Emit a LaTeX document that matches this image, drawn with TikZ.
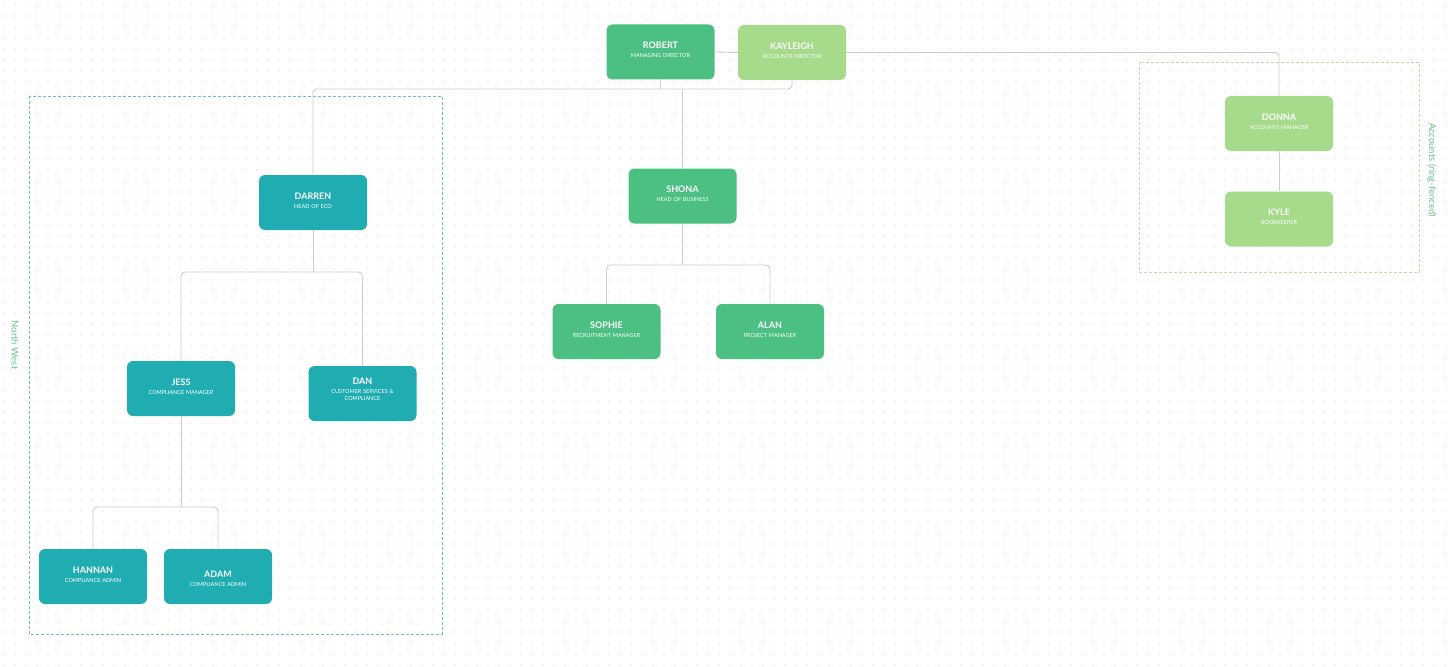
\documentclass[tikz,border=0pt]{standalone}
\usepackage{fontspec}
\setmainfont{Lato}
\usetikzlibrary{positioning}

\definecolor{staffgreen}{HTML}{4CBF83}
\definecolor{acctgreen}{HTML}{A6DB8B}
\definecolor{nwteal}{HTML}{20ADB2}
\definecolor{linkgray}{HTML}{C9CED3}
\definecolor{dotgray}{HTML}{E3E6E8}
\definecolor{nwblue}{HTML}{6BBAD8}
\definecolor{fencegreen}{HTML}{B8E2A4}
\definecolor{grouptext}{HTML}{6CC28C}

\newcommand{\person}[2]{{\fontsize{9}{9}\bfseries #1}\\[2pt]#2}

\begin{document}
\begin{tikzpicture}[x=1pt, y=-1pt,
    staff/.style={rectangle, rounded corners=6pt, minimum width=108pt, minimum height=55pt,
        text width=104pt, align=center, text=white, inner sep=2pt, text depth=13pt,
        font=\fontsize{5.5}{7}\selectfont},
    mgr/.style={staff, fill=staffgreen},
    acct/.style={staff, fill=acctgreen},
    nw/.style={staff, fill=nwteal},
    link/.style={draw=linkgray, line width=0.9pt, rounded corners=4pt},
    grouplabel/.style={text=grouptext, font=\fontsize{9.5}{10}\selectfont, rotate=-90}]

    % 1. Page and dotted canvas
    \useasboundingbox[fill=white] (0,0) rectangle (1455,666);
    \foreach \y in {5,16,...,666} {
        \fill[dotgray] \foreach \x in {4,15,...,1455} {(\x-0.7,\y-0.7) rectangle ++(1.4,1.4)};
    }

    % 2. Groups
    \draw[nwblue, densely dashed, line width=0.7pt] (29,96) rectangle (442,634);
    \node[grouplabel] (nwlabel) at (15,345) {North West};
    \draw[fencegreen, densely dashed, line width=0.7pt] (1139,62) rectangle (1419,272);
    \node[grouplabel] (acctlabel) at (1432,170) {Accounts (ring-fenced)};

    % 3. People
    \node[mgr] (robert) at (660.5,52) {\person{ROBERT}{MANAGING DIRECTOR}};
    \node[acct] (kayleigh) at (792,52.5) {\person{KAYLEIGH}{ACCOUNTS DIRECTOR}};
    \node[nw] (darren) at (313,202.5) {\person{DARREN}{HEAD OF ECO}};
    \node[mgr] (shona) at (682.5,196) {\person{SHONA}{HEAD OF BUSINESS}};
    \node[mgr] (sophie) at (606.5,331.5) {\person{SOPHIE}{RECRUITMENT MANAGER}};
    \node[mgr] (alan) at (770,331.5) {\person{ALAN}{PROJECT MANAGER}};
    \node[nw] (jess) at (181,388.5) {\person{JESS}{COMPLIANCE MANAGER}};
    \node[nw, text depth=25pt] (dan) at (362.5,393.5) {\person{DAN}{CUSTOMER SERVICES \&\\ COMPLIANCE}};
    \node[nw] (hannan) at (93,576.5) {\person{HANNAN}{COMPLIANCE ADMIN}};
    \node[nw, text depth=5pt] (adam) at (218,576.5) {\person{ADAM}{COMPLIANCE ADMIN}};
    \node[acct] (donna) at (1279,123.5) {\person{DONNA}{ACCOUNTS MANAGER}};
    \node[acct] (kyle) at (1279,219) {\person{KYLE}{BOOKKEEPER}};

    % 4. Reporting lines
    \coordinate (topbus) at (0,89);
    \coordinate (ecobus) at (0,272);
    \coordinate (bizbus) at (0,265);
    \coordinate (admbus) at (0,507);

    \draw[link] (robert.east) -- (kayleigh.west);
    \draw[link] (kayleigh.east) -| (donna.north);
    \draw[link] (donna.south) -- (kyle.north);

    \draw[link] (darren.north) |- (kayleigh.south |- topbus) -- (kayleigh.south);
    \draw[link] (robert.south) -- (robert.south |- topbus);
    \draw[link] (shona.north) -- (shona.north |- topbus);

    \draw[link] (jess.north) |- (dan.north |- ecobus) -- (dan.north);
    \draw[link] (darren.south) -- (darren.south |- ecobus);

    \draw[link] (sophie.north) |- (alan.north |- bizbus) -- (alan.north);
    \draw[link] (shona.south) -- (shona.south |- bizbus);

    \draw[link] (hannan.north) |- (adam.north |- admbus) -- (adam.north);
    \draw[link] (jess.south) -- (jess.south |- admbus);

\end{tikzpicture}
\end{document}
